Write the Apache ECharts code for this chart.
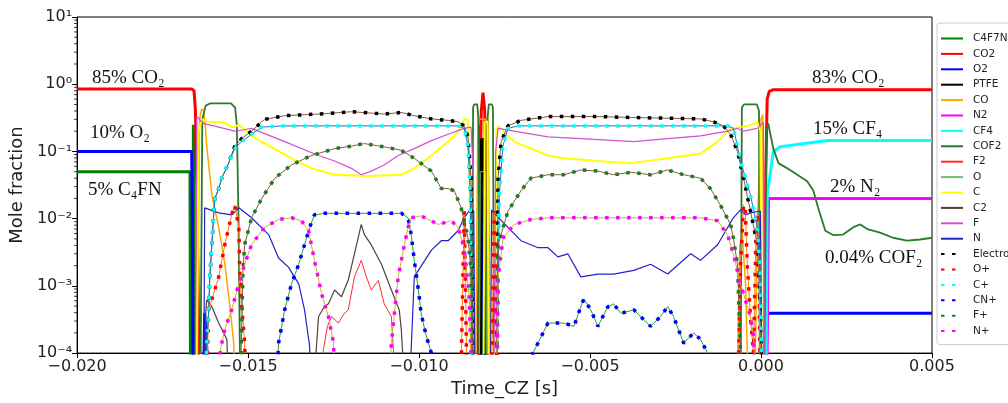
<!DOCTYPE html>
<html>
<head>
<meta charset="utf-8">
<script src="https://cdn.jsdelivr.net/npm/echarts@6/dist/echarts.min.js"></script>
<style>
  html, body { margin: 0; padding: 0; background: #fff; }
  #main { width: 1008px; height: 403px; }
</style>
</head>
<body>
<div id="main"></div>
<script>
// time in s, mole fraction; 1e-5 means "below the plotted range"
const C4F7N = [[-0.02000,0.05],[-0.01670,0.05],[-0.01668,1e-5],[-0.01662,1e-5],[-0.01660,0.25],[-0.01656,0.25],[-0.01654,1e-5],
  [-0.00824,1e-5],[-0.00822,0.25],[-0.00818,0.25],[-0.00816,1e-5],
  [-0.00808,1e-5],[-0.00806,0.25],[-0.00802,0.25],[-0.00800,1e-5]];
const CO2 = [[-0.02000,0.85],[-0.01665,0.85],[-0.01658,0.8],[-0.01654,0.4],[-0.01650,0.03],[-0.01646,0.001],[-0.01642,1e-5],
  [-0.00830,1e-5],[-0.00822,0.03],[-0.00818,0.4],[-0.00813,0.75],[-0.00808,0.4],[-0.00804,0.03],[-0.00796,1e-5],
  [0.00010,1e-5],[0.00014,0.05],[0.00018,0.6],[0.00024,0.78],[0.00036,0.83],[0.00500,0.83]];
const O2 = [[-0.02000,0.1],[-0.01665,0.1],[-0.01663,0.01],[-0.01660,1e-5],
  [-0.01632,1e-5],[-0.01627,3.9e-4],[-0.01620,1e-4],[-0.01616,1e-5],
  [-0.00820,1e-5],[-0.00817,0.022],[-0.00810,0.022],[-0.00807,1e-5],
  [0.00012,1e-5],[0.00018,3.9e-4],[0.00500,3.9e-4]];
const PTFE = [[-0.00821,1e-5],[-0.00818,0.15],[-0.00810,0.15],[-0.00807,1e-5]];
const CO = [[-0.01650,1e-5],[-0.01642,0.3],[-0.01636,0.43],[-0.01630,0.4],[-0.01624,0.2],[-0.01621,0.12],[-0.01606,0.0225],
  [-0.01586,0.0074],[-0.01568,0.0021],[-0.01554,5.4e-4],[-0.01542,1.4e-4],[-0.01538,1e-5],
  [-0.00836,1e-5],[-0.00828,0.3],[-0.00798,0.3],[-0.00790,1e-5],
  [-0.00072,1e-5],[-0.00062,0.004],[-0.00055,0.006],[-0.00045,0.001],[-0.00035,1e-5],
  [-0.00020,1e-5],[-0.00010,0.01],[0.00000,0.3],[0.00005,0.35],[0.00010,1e-5]];
const N2 = [[0.00016,1e-5],[0.00022,0.02],[0.00500,0.02]];
const CF4 = [[0.00014,1e-5],[0.00018,0.022],[0.00036,0.1],[0.00056,0.117],[0.00123,0.13],[0.00194,0.145],[0.00500,0.145]];
const COF2 = [[-0.01640,1e-5],[-0.01634,0.3],[-0.01624,0.48],[-0.01610,0.52],[-0.01550,0.52],[-0.01538,0.45],[-0.01533,0.25],[-0.01528,0.01],[-0.01522,1e-5],
  [-0.00846,1e-5],[-0.00842,0.45],[-0.00839,0.5],[-0.00830,0.5],[-0.00826,0.3],[-0.00824,1e-5],
  [-0.00802,1e-5],[-0.00800,0.3],[-0.00796,0.5],[-0.00787,0.5],[-0.00784,0.45],[-0.00780,1e-5],
  [-0.00060,1e-5],[-0.00056,0.45],[-0.00050,0.5],[-0.00012,0.5],[-0.00006,0.4],[-0.00003,1e-5],
  [0.00008,1e-5],[0.00016,0.2],[0.00021,0.26],[0.00036,0.11],[0.00051,0.067],[0.00077,0.056],[0.00106,0.045],[0.00135,0.036],
  [0.00153,0.026],[0.00167,0.0145],[0.00188,0.0066],[0.00211,0.0057],[0.00240,0.0058],[0.00269,0.0074],[0.00290,0.0082],
  [0.00313,0.0069],[0.00348,0.0062],[0.00386,0.0052],[0.00427,0.0047],[0.00465,0.0049],[0.00500,0.0052]];
const F2 = [[-0.01285,1e-5],[-0.01280,1.1e-4],[-0.01268,2.5e-4],[-0.01256,3.5e-4],[-0.01236,2.8e-4],[-0.01220,3.8e-4],[-0.01207,4.4e-4],
  [-0.01189,1.36e-3],[-0.01169,2.4e-3],[-0.01154,1.36e-3],[-0.01140,8.7e-4],[-0.01119,1.2e-3],[-0.01102,5.4e-4],[-0.01081,3.5e-4],
  [-0.01075,1.1e-4],[-0.01072,1e-5]];
const O = [[-0.00824,1e-5],[-0.00821,0.05],[-0.00806,0.05],[-0.00803,1e-5]];
const C = [[-0.01652,1e-5],[-0.01645,0.2],[-0.01635,0.3],[-0.01620,0.28],[-0.01570,0.27],[-0.01548,0.23],[-0.01539,0.23],[-0.01527,0.25],
  [-0.01490,0.17],[-0.01440,0.122],[-0.01373,0.079],[-0.01315,0.056],[-0.01247,0.045],[-0.01148,0.043],[-0.01052,0.045],[-0.01014,0.056],
  [-0.00964,0.087],[-0.00915,0.14],[-0.00886,0.197],[-0.00868,0.3],[-0.00858,0.3],[-0.00852,0.05],[-0.00848,1e-5],
  [-0.00812,1e-5],[-0.00808,0.28],[-0.00800,0.28],[-0.00796,1e-5],
  [-0.00780,1e-5],[-0.00774,0.2],[-0.00769,0.24],[-0.00722,0.14],[-0.00673,0.11],[-0.00623,0.087],[-0.00577,0.079],[-0.00477,0.072],
  [-0.00381,0.067],[-0.00273,0.079],[-0.00177,0.093],[-0.00127,0.14],[-0.00089,0.22],[-0.00040,0.24],[-0.00011,0.27],[-0.00002,0.2],[0.00003,1e-5]];
const C2 = [[-0.01630,1e-5],[-0.01624,4e-4],[-0.01621,6.2e-4],[-0.01606,4.9e-4],[-0.01586,2.8e-4],[-0.01562,1.6e-4],[-0.01554,1e-5],
  [-0.01315,1e-5],[-0.01294,3.5e-4],[-0.01277,4.9e-4],[-0.01265,5.4e-4],[-0.01247,8.7e-4],[-0.01227,6.9e-4],[-0.01207,1.22e-3],
  [-0.01189,3.0e-3],[-0.01169,8.2e-3],[-0.01160,5.8e-3],[-0.01140,4.1e-3],[-0.01110,2.1e-3],[-0.01081,8.7e-4],[-0.01058,4.4e-4],
  [-0.01052,2.25e-4],[-0.01037,1e-5]];
const F = [[-0.01655,1e-5],[-0.01650,0.33],[-0.01630,0.26],[-0.01600,0.24],[-0.01539,0.2],[-0.01510,0.21],[-0.01490,0.22],[-0.01393,0.14],
  [-0.01294,0.087],[-0.01247,0.072],[-0.01198,0.056],[-0.01169,0.045],[-0.01140,0.051],[-0.01102,0.063],[-0.01061,0.087],[-0.01014,0.11],
  [-0.00964,0.145],[-0.00915,0.18],[-0.00868,0.22],[-0.00848,0.23],[-0.00842,0.05],[-0.00838,1e-5],
  [-0.00782,1e-5],[-0.00776,0.1],[-0.00769,0.22],[-0.00722,0.2],[-0.00623,0.165],[-0.00527,0.155],[-0.00372,0.14],[-0.00273,0.155],
  [-0.00177,0.17],[-0.00098,0.2],[-0.00069,0.22],[-0.00051,0.2],[-0.00011,0.22],[0.00007,0.27],[0.00010,1e-5]];
const N = [[-0.01630,1e-5],[-0.01627,0.0145],[-0.01586,0.0122],[-0.01548,0.0114],[-0.01527,0.0145],[-0.01490,0.0103],[-0.01440,0.0058],
  [-0.01411,0.0026],[-0.01382,0.0019],[-0.01352,0.00107],[-0.01335,4.4e-4],[-0.01320,1.27e-4],[-0.01315,1e-5],
  [-0.01032,1e-5],[-0.01014,0.00136],[-0.00964,0.0034],[-0.00935,0.0047],[-0.00915,0.0047],[-0.00886,0.0066],[-0.00868,0.0103],
  [-0.00854,0.013],[-0.00840,0.013],[-0.00836,1e-5],
  [-0.00792,1e-5],[-0.00788,0.0135],[-0.00781,0.0122],[-0.00740,0.0074],[-0.00702,0.0047],[-0.00652,0.0037],[-0.00623,0.0037],
  [-0.00594,0.0027],[-0.00565,0.003],[-0.00527,0.00136],[-0.00477,0.0015],[-0.00431,0.0015],[-0.00372,0.0017],[-0.00323,0.0021],
  [-0.00273,0.0015],[-0.00206,0.003],[-0.00177,0.0024],[-0.00127,0.0041],[-0.00081,0.0103],[-0.00060,0.0135],[-0.00046,0.0114],
  [-0.00031,0.0122],[-0.00002,0.013],[0.00004,1e-5]];
const Electron = [[-0.01627,1e-5],[-0.01621,1.4e-4],[-0.01615,4.4e-4],[-0.01612,0.00136],[-0.01606,0.0041],[-0.01600,0.013],[-0.01597,0.02],
  [-0.01586,0.028],[-0.01577,0.04],[-0.01557,0.067],[-0.01539,0.12],[-0.01519,0.155],[-0.01490,0.2],[-0.01452,0.3],[-0.01393,0.34],
  [-0.01294,0.36],[-0.01198,0.39],[-0.01102,0.36],[-0.01052,0.38],[-0.01014,0.34],[-0.00964,0.305],[-0.00915,0.29],[-0.00886,0.276],
  [-0.00868,0.24],[-0.00857,0.165],[-0.00848,0.04],[-0.00842,1e-5],
  [-0.00775,1e-5],[-0.00769,0.04],[-0.00760,0.14],[-0.00740,0.24],[-0.00702,0.29],[-0.00623,0.33],[-0.00477,0.33],[-0.00381,0.32],
  [-0.00177,0.305],[-0.00139,0.276],[-0.00110,0.24],[-0.00089,0.18],[-0.00069,0.1],[-0.00051,0.04],[-0.00031,0.013],[-0.00011,0.0042],
  [-0.00002,4.4e-4],[0.00004,1e-5]];
const Oplus = [[-0.01625,1e-5],[-0.01615,4.4e-4],[-0.01586,0.00136],[-0.01568,0.0041],[-0.01548,0.0114],[-0.01539,0.016],[-0.01527,0.0074],
  [-0.01525,0.0021],[-0.01519,5.4e-4],[-0.01510,1.4e-4],[-0.01505,1e-5],
  [-0.00880,1e-5],[-0.00868,0.013],[-0.00858,1e-5],
  [-0.00790,1e-5],[-0.00780,0.013],[-0.00768,1e-5],
  [-0.00069,1e-5],[-0.00060,0.002],[-0.00051,0.016],[-0.00046,0.013],[-0.00040,0.002],[-0.00030,3e-4],[-0.00022,1e-4],
  [-0.00015,0.005],[-0.00011,0.012],[-0.00005,0.001],[-0.00002,1e-5]];
const Cplus = [[-0.01627,1e-5],[-0.01621,1.4e-4],[-0.01615,4.4e-4],[-0.01612,0.00136],[-0.01606,0.0041],[-0.01600,0.013],[-0.01597,0.02],
  [-0.01586,0.028],[-0.01577,0.04],[-0.01557,0.067],[-0.01539,0.11],[-0.01519,0.14],[-0.01490,0.18],[-0.01460,0.23],[-0.01400,0.24],
  [-0.00886,0.24],[-0.00868,0.22],[-0.00857,0.12],[-0.00850,0.02],[-0.00845,1e-5],
  [-0.00772,1e-5],[-0.00766,0.02],[-0.00755,0.12],[-0.00740,0.22],[-0.00710,0.24],[-0.00098,0.24],[-0.00080,0.22],[-0.00060,0.072],
  [-0.00031,0.0225],[-0.00011,0.0074],[-0.00002,0.00136],[0.00004,1e-5]];
const CNplus = [[-0.01420,1e-5],[-0.01411,1.4e-4],[-0.01393,4.4e-4],[-0.01373,0.00107],[-0.01352,0.0021],[-0.01335,0.0041],[-0.01320,0.0074],
  [-0.01306,0.0114],[-0.01277,0.012],[-0.01052,0.012],[-0.01032,0.0103],[-0.01023,0.0058],[-0.01014,0.0024],[-0.01002,8.7e-4],
  [-0.00994,3.9e-4],[-0.00979,1.8e-4],[-0.00964,1e-4],[-0.00955,1e-5],
  [-0.00675,1e-5],[-0.00667,1e-4],[-0.00623,2.8e-4],[-0.00577,2.8e-4],[-0.00547,2.5e-4],[-0.00527,4.9e-4],[-0.00518,6.4e-4],
  [-0.00498,4.4e-4],[-0.00477,2.5e-4],[-0.00448,4.9e-4],[-0.00431,5.4e-4],[-0.00410,3.9e-4],[-0.00372,4.4e-4],[-0.00323,2.5e-4],
  [-0.00294,3.5e-4],[-0.00273,4.9e-4],[-0.00256,3.5e-4],[-0.00226,1.4e-4],[-0.00197,2.0e-4],[-0.00177,1.6e-4],[-0.00156,1e-4],[-0.00150,1e-5]];
const Fplus = [[-0.01525,1e-5],[-0.01515,0.0017],[-0.01510,0.0041],[-0.01490,0.0103],[-0.01460,0.02],[-0.01422,0.04],[-0.01373,0.063],
  [-0.01315,0.087],[-0.01247,0.11],[-0.01198,0.12],[-0.01160,0.131],[-0.01102,0.117],[-0.01052,0.104],[-0.01014,0.079],[-0.00964,0.051],
  [-0.00935,0.028],[-0.00915,0.028],[-0.00897,0.026],[-0.00877,0.0145],[-0.00857,0.0052],[-0.00848,0.0017],[-0.00842,1e-4],[-0.00838,1e-5],
  [-0.00775,1e-5],[-0.00769,0.0041],[-0.00740,0.013],[-0.00702,0.026],[-0.00673,0.04],[-0.00623,0.045],[-0.00577,0.045],[-0.00527,0.053],
  [-0.00477,0.051],[-0.00431,0.045],[-0.00381,0.049],[-0.00323,0.045],[-0.00273,0.053],[-0.00226,0.045],[-0.00177,0.04],[-0.00148,0.028],
  [-0.00119,0.016],[-0.00089,0.0082],[-0.00081,0.0052],[-0.00069,0.0021],[-0.00060,1e-4],[-0.00056,1e-5]];
const Nplus = [[-0.01600,1e-5],[-0.01580,1.2e-4],[-0.01568,2.25e-4],[-0.01548,4.4e-4],[-0.01527,1.07e-3],[-0.01510,2.1e-3],[-0.01490,0.0041],
  [-0.01452,0.0074],[-0.01411,0.0097],[-0.01373,0.0103],[-0.01344,0.0093],[-0.01323,0.0066],[-0.01306,0.0024],[-0.01285,7.6e-4],
  [-0.01265,3.5e-4],[-0.01250,1.4e-4],[-0.01245,1e-5],
  [-0.01090,1e-5],[-0.01081,1.4e-4],[-0.01061,0.00136],[-0.01043,0.0041],[-0.01032,0.0074],[-0.01023,0.0103],[-0.00994,0.011],
  [-0.00944,0.0082],[-0.00906,0.0093],[-0.00886,0.0074],[-0.00868,0.0037],[-0.00854,7.6e-4],[-0.00842,1e-5],
  [-0.00775,1e-5],[-0.00769,0.00136],[-0.00754,0.0052],[-0.00722,0.0082],[-0.00673,0.0097],[-0.00623,0.0103],[-0.00177,0.0103],
  [-0.00127,0.0093],[-0.00098,0.0058],[-0.00081,0.003],[-0.00060,0.00107],[-0.00031,3.5e-4],[-0.00022,1.8e-4],[-0.00011,1e-5]];

const xTicks = [-0.020, -0.015, -0.010, -0.005, 0.000, 0.005];
const decades = [1e-4, 1e-3, 1e-2, 1e-1, 1];
const minorSteps = [2, 3, 4, 5, 6, 7, 8, 9];
const annotations = [
  { text: '85% CO₂', x: 92, y: 78 },
  { text: '10% O₂', x: 90, y: 133 },
  { text: '5% C₄FN', x: 88, y: 190 },
  { text: '83% CO₂', x: 812, y: 78 },
  { text: '15% CF₄', x: 813, y: 129 },
  { text: '2% N₂', x: 830, y: 187 },
  { text: '0.04% COF₂', x: 825, y: 258 }
];

// legend order = draw order
const styles = [
  { name: 'C4F7N', data: C4F7N, color: '#008000', width: 3 },
  { name: 'CO2', data: CO2, color: '#ff0000', width: 3 },
  { name: 'O2', data: O2, color: '#0000ff', width: 3 },
  { name: 'PTFE', data: PTFE, color: '#000000', width: 3 },
  { name: 'CO', data: CO, color: '#ffa500', width: 1.5 },
  { name: 'N2', data: N2, color: '#ff00ff', width: 3 },
  { name: 'CF4', data: CF4, color: '#00ffff', width: 3 },
  { name: 'COF2', data: COF2, color: '#2a7a2a', width: 1.8 },
  { name: 'F2', data: F2, color: '#ff2a2a', width: 1 },
  { name: 'O', data: O, color: '#6cbf6c', width: 1 },
  { name: 'C', data: C, color: '#ffff00', width: 2 },
  { name: 'C2', data: C2, color: '#4e4238', width: 1.2 },
  { name: 'F', data: F, color: '#d050d8', width: 1.2 },
  { name: 'N', data: N, color: '#2222cc', width: 1.2 },
  { name: 'Electron', data: Electron, color: '#000000', width: 3.5, dotted: true, under: '#8c564b' },
  { name: 'O+', data: Oplus, color: '#ff0000', width: 3.5, dotted: true, under: '#ff7f0e' },
  { name: 'C+', data: Cplus, color: '#00ffff', width: 3.5, dotted: true, under: '#1f77b4' },
  { name: 'CN+', data: CNplus, color: '#0000ff', width: 3.5, dotted: true, under: '#2ca02c' },
  { name: 'F+', data: Fplus, color: '#1e7b1e', width: 3.5, dotted: true, under: '#8c564b' },
  { name: 'N+', data: Nplus, color: '#ff00ff', width: 3.5, dotted: true, under: '#bcbd22' }
];

const sup = { '-': '⁻', '0': '⁰', '1': '¹', '2': '²', '3': '³', '4': '⁴', '5': '⁵' };
function powLabel(v) {
  const e = Math.round(Math.log10(v));
  return '10' + String(e).split('').map(c => sup[c]).join('');
}

const series = [];
styles.forEach(s => {
  if (s.under) {
    series.push({
      type: 'line', name: s.name + ' base', data: s.data, symbol: 'none', silent: true,
      lineStyle: { color: s.under, width: 1 }, itemStyle: { color: s.under }
    });
  }
  series.push({
    type: 'line', name: s.name, data: s.data, symbol: 'none',
    lineStyle: { color: s.color, width: s.width, type: s.dotted ? [3.5, 7.5] : 'solid', cap: 'butt' },
    itemStyle: { color: s.color }
  });
});

const chart = echarts.init(document.getElementById('main'), null, { renderer: 'canvas' });
chart.setOption({
  animation: false,
  backgroundColor: '#fff',
  grid: { left: 75, right: 76, top: 17, bottom: 46, show: true, borderColor: '#000', borderWidth: 1 },
  xAxis: {
    type: 'value', min: xTicks[0], max: xTicks[xTicks.length - 1], interval: 0.005,
    name: 'Time_CZ [s]', nameLocation: 'middle', nameGap: 24,
    nameTextStyle: { fontSize: 18, color: '#222', fontFamily: 'DejaVu Sans' },
    axisLine: { onZero: false, lineStyle: { color: '#000' } },
    axisTick: { lineStyle: { color: '#000' }, length: 5 },
    splitLine: { show: false },
    axisLabel: {
      fontSize: 16, color: '#222', fontFamily: 'DejaVu Sans', margin: 6,
      formatter: v => (v < -1e-9 ? '−' : '') + Math.abs(v).toFixed(3)
    }
  },
  yAxis: {
    type: 'log', logBase: 10, min: 1e-4, max: 10,
    name: 'Mole fraction', nameLocation: 'middle', nameGap: 44, nameRotate: 90,
    nameTextStyle: { fontSize: 18, color: '#222', fontFamily: 'DejaVu Sans' },
    axisLine: { onZero: false, lineStyle: { color: '#000' } },
    axisTick: { lineStyle: { color: '#000' }, length: 5 },
    splitLine: { show: false },
    axisLabel: { fontSize: 16, color: '#222', fontFamily: 'DejaVu Sans', margin: 5, formatter: powLabel }
  },
  legend: {
    orient: 'vertical', left: 937, top: 23,
    data: styles.map(s => s.name),
    itemWidth: 22, itemHeight: 10, itemGap: 4.4,
    padding: [10, 6, 8, 3],
    backgroundColor: 'rgba(255,255,255,0.85)',
    borderColor: '#cccccc', borderWidth: 1, borderRadius: 3,
    itemStyle: { opacity: 0 },
    textStyle: { fontSize: 10.5, lineHeight: 10, color: '#222', fontFamily: 'DejaVu Sans', padding: [0, 0, 0, 5] },
    selectedMode: false
  },
  graphic: annotations.map(a => ({
    type: 'text', x: a.x, y: a.y, z: 100,
    style: { text: a.text, font: '19px "Liberation Serif", "DejaVu Serif", serif', fill: '#111', align: 'left', verticalAlign: 'middle' }
  })),
  series: series
});

// log minor ticks (2..9 x 10^n) on the left spine, placed through the axis scale
const x0 = chart.convertToPixel({ xAxisIndex: 0 }, xTicks[0]);
const minor = [];
decades.forEach(d => minorSteps.forEach(k => {
  const py = chart.convertToPixel({ yAxisIndex: 0 }, d * k);
  minor.push({
    type: 'line', z: 50, silent: true,
    shape: { x1: x0 - 3, y1: py, x2: x0, y2: py },
    style: { stroke: '#000', lineWidth: 0.8 }
  });
}));
chart.setOption({ graphic: minor.map((g, i) => Object.assign({ id: 'minor' + i }, g)) });
</script>
</body>
</html>
